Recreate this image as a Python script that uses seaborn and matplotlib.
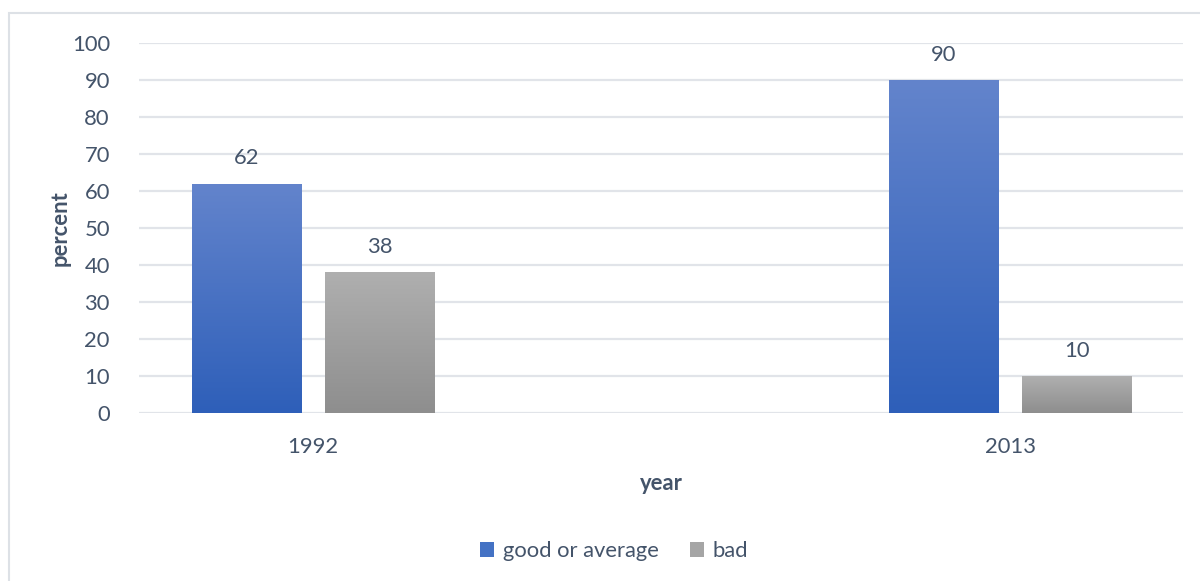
import numpy as np
import pandas as pd
import matplotlib
matplotlib.use("Agg")
import matplotlib.pyplot as plt
from matplotlib.colors import LinearSegmentedColormap
from matplotlib.patches import Rectangle, Patch
import seaborn as sns

# Data
years = ["1992", "2013"]
series = ["good or average", "bad"]
good_or_average = [62, 90]
bad = [38, 10]
y_ticks = [0, 10, 20, 30, 40, 50, 60, 70, 80, 90, 100]

df = pd.DataFrame({
    "year": years * 2,
    "percent": good_or_average + bad,
    "series": [series[0]] * len(years) + [series[1]] * len(years),
})

sns.set_theme(style="white")
plt.rcParams["font.family"] = ["Lato", "DejaVu Sans"]

TEXT = "#44546A"
GRID = "#E1E4E9"
FS = 15.8
gradients = {
    series[0]: ("#6384CC", "#2E5FB9"),
    series[1]: ("#AFAFAF", "#8E8E8E"),
}
solid = {series[0]: "#4472C4", series[1]: "#A5A5A5"}

fig = plt.figure(figsize=(12, 5.81), dpi=100)
ax = fig.add_axes([139 / 1200, 1 - 413 / 581, (1183 - 139) / 1200, (413 - 43) / 581])

sns.barplot(data=df, x="year", y="percent", hue="series", hue_order=series,
            palette=solid, width=0.3816, gap=0.18, legend=False, ax=ax,
            saturation=1, linewidth=0, zorder=3)

ax.set_xlim(-0.2496, 1.248)
ax.set_ylim(0, 100)
ax.set_yticks(y_ticks)
ax.grid(axis="y", color=GRID, linewidth=1.6, zorder=0)
ax.set_axisbelow(True)
for s in ax.spines.values():
    s.set_visible(False)
ax.tick_params(axis="both", length=0, labelsize=FS, labelcolor=TEXT)
ax.tick_params(axis="y", pad=21)
ax.tick_params(axis="x", pad=17)

# vertical gradient fill clipped to each bar, plus value labels
grad = np.linspace(1, 0, 256).reshape(-1, 1)
for container, name in zip(ax.containers, series):
    cmap = LinearSegmentedColormap.from_list(name, [gradients[name][1], gradients[name][0]])
    for bar, val in zip(container, container.datavalues):
        x0, y0 = bar.get_x(), bar.get_y()
        w, h = bar.get_width(), bar.get_height()
        im = ax.imshow(grad, cmap=cmap, aspect="auto", extent=(x0, x0 + w, y0, y0 + h),
                       zorder=4, interpolation="bicubic", vmin=0, vmax=1)
        im.set_clip_path(bar)
        ax.annotate(f"{val:g}", (x0 + w / 2, y0 + h), xytext=(0, 11),
                    textcoords="offset points", ha="center", va="bottom",
                    fontsize=FS, color=TEXT, zorder=5)

ax.set_xlim(-0.2496, 1.248)
ax.set_ylim(0, 100)

ax.set_ylabel("percent", fontsize=FS, fontweight="bold", color=TEXT, labelpad=1)
ax.set_xlabel("year", fontsize=FS, fontweight="bold", color=TEXT, labelpad=12)

handles = [Patch(facecolor=solid[s], edgecolor="none", label=s) for s in series]
fig.legend(handles=handles, loc="center", bbox_to_anchor=(614 / 1200, 1 - 551 / 581),
           ncol=2, frameon=False, fontsize=FS, labelcolor=TEXT,
           handlelength=0.65, handleheight=0.65, handletextpad=0.4, columnspacing=1.4)

# chart area border
fig.patches.append(Rectangle((9 / 1200, -0.05), 1.1, 1 - 13 / 581 + 0.05,
                             transform=fig.transFigure, fill=False,
                             edgecolor="#DDE1E6", linewidth=1.5))

fig.savefig("out.png", dpi=100)
